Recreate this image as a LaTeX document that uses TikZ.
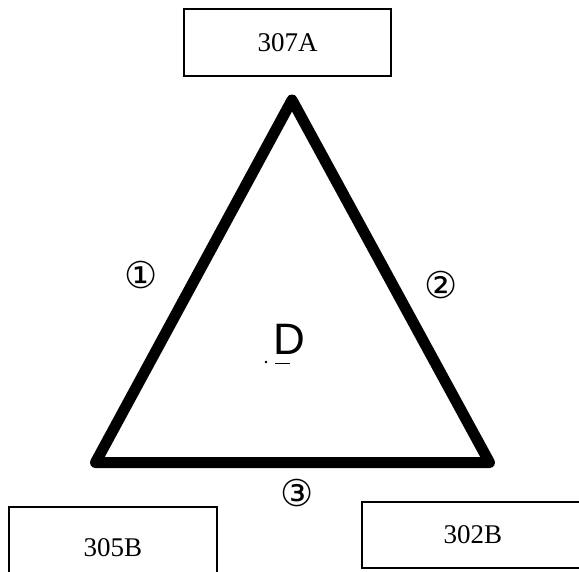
\documentclass[tikz,border=0pt]{standalone}
\usepackage{fontspec}
\setmainfont{Liberation Serif}
\newfontfamily\symfont{DejaVu Sans}
\newfontfamily\letterfont{Liberation Sans}
\tikzset{
	roombox/.style={draw, line width=1.5pt, inner sep=0pt, font=\fontsize{27}{30}\selectfont},
	sidelabel/.style={inner sep=0pt, font=\symfont\fontsize{37}{40}\selectfont},
}
\begin{document}
\begin{tikzpicture}[x=1pt,y=-1pt]
		\useasboundingbox (0,0) rectangle (579,571);
		\clip (0,0) rectangle (579,571);
		
		\node[roombox, minimum width=207pt, minimum height=67pt] (roomA) at (287.5,42.5) {307A};
		\node[roombox, minimum width=208pt, minimum height=82pt] (roomL) at (113,548) {305B};
		\node[roombox, minimum width=222pt, minimum height=66pt] (roomR) at (473,535) {302B};
		
		\coordinate (top) at (292,100);
		\coordinate (left) at (95.5,462.5);
		\coordinate (right) at (489.5,462.5);
		\draw[line width=11pt, line join=round] (top) -- (left) -- (right) -- cycle;
		
		\node[sidelabel] (one) at (141,275) {①};
		\node[sidelabel] (two) at (441,285) {②};
		\node[sidelabel] (three) at (297,493) {③};
		
		\node[inner sep=0pt, font=\letterfont\fontsize{44}{46}\selectfont] (door) at (289,339) {D};
		\filldraw[black] (266,362) circle (1pt);
		\draw[line width=1pt] (275,363) -- (290,363);
\end{tikzpicture}
\end{document}
